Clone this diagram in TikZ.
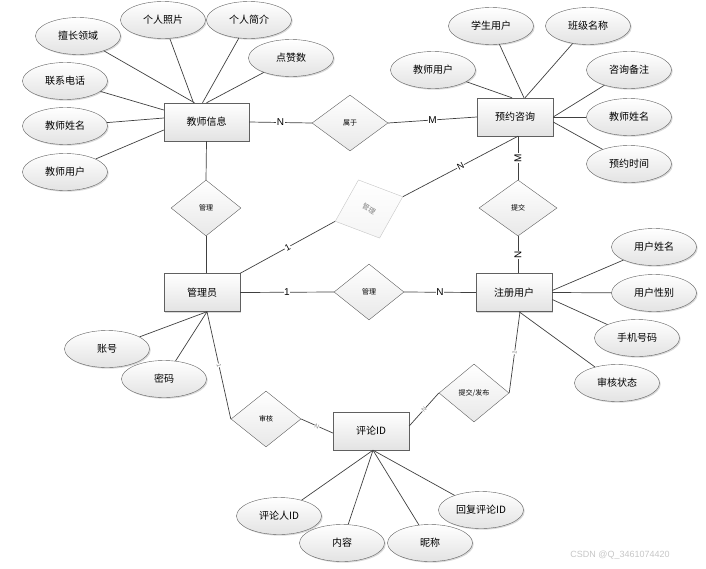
\documentclass[tikz,border=0pt]{standalone}
\usepackage{fontspec}
\setmainfont{Noto Sans CJK SC}
\newfontfamily\labfont{Liberation Sans}
\usetikzlibrary{shapes.geometric,shadows}
\tikzset{
	boxfill/.style={draw=gray!75!black, top color=white, bottom color=gray!22},
	shade/.style={drop shadow={opacity=0.3, shadow xshift=1.2pt, shadow yshift=-1.2pt}},
	ent/.style={boxfill, shade, minimum width=76pt, minimum height=38pt, inner sep=0pt, font=\fontsize{10}{12}\selectfont},
	attr/.style={ellipse, boxfill, shade, minimum width=85pt, minimum height=37pt, inner sep=0pt, font=\fontsize{10}{12}\selectfont},
	rel/.style={diamond, draw=gray!75!black, top color=white, bottom color=gray!18, minimum width=70pt, minimum height=56pt, inner sep=0pt, font=\fontsize{7}{8}\selectfont},
	con/.style={draw=black!75, line width=0.7pt},
	card/.style={fill=white, inner sep=0.6pt, font=\labfont\fontsize{10}{12}\selectfont},
	tick/.style={fill=white, inner sep=0.3pt, sloped, text=gray, font=\labfont\fontsize{6}{6}\selectfont},
}
\begin{document}
\begin{tikzpicture}[x=1pt, y=-1pt]
	\useasboundingbox (0,0) rectangle (706,568);
	\node[ent, minimum width=85pt] (ts) at (206.5,122) {教师信息};
	\node[ent] (yy) at (515,117) {预约咨询};
	\node[ent] (gly) at (202,292.5) {管理员};
	\node[ent] (zc) at (514,292.5) {注册用户};
	\node[ent] (pl) at (371,431) {评论ID};
	\node[rel, minimum width=76pt] (sy) at (350,123) {属于};
	\node[rel] (gl1) at (206,208) {管理};
	\node[rel, minimum width=78pt] (tj) at (518,208) {提交};
	\node[rel] (gl2) at (369,292) {管理};
	\node[rel] (sh) at (266,419) {审核};
	\node[rel, minimum height=58pt] (fb) at (474,393) {提交/发布};
	\node[rel, draw=gray!45, bottom color=gray!8, text=gray, rotate=20, minimum width=72pt, minimum height=62pt] (gl3) at (369,209) {\rotatebox{-50}{管理}};
	\foreach \nm/\x/\y/\txt/\e/\an/\dx/\dy in {
			a1/78/36/擅长领域/ts/north/-12/0, a2/163/20/个人照片/ts/north/-13/0,
			a3/249/20/个人简介/ts/north/-4/0, a4/291/58/点赞数/ts/north/0/0,
			a5/65/81/联系电话/ts/west/0/12, a6/65/126/教师姓名/ts/west/0/4,
			a7/65/172/教师用户/ts/west/0/-8,
			b1/433/70/教师用户/yy/north/-3/0, b2/491/26/学生用户/yy/north/9/0,
			b3/588/26/班级名称/yy/north/10/0, b4/629/70/咨询备注/yy/east/0/0,
			b5/629/117/教师姓名/yy/east/0/0, b6/629/164/预约时间/yy/east/0/-5,
			c1/107/349/账号/gly/south/5/0, c2/164/379/密码/gly/south/5/0,
			d1/654/247/用户姓名/zc/east/0/2, d2/654/293/用户性别/zc/east/0/0,
			d3/637/338/手机号码/zc/east/0/-7, d4/617/383/审核状态/zc/south/5/0,
			e1/279/516/评论人ID/pl/south/2/0, e2/342/543/内容/pl/south/2/0,
			e3/430/543/昵称/pl/south/2/0, e4/481/510/回复评论ID/pl/south/2/0}
	{
		\node[attr] (\nm) at (\x,\y) {\txt};
		\draw[con] (\nm) -- ([xshift=\dx pt, yshift=\dy pt]\e.\an);
	}
	\draw[con] (ts.east) -- node[card] {N} (sy.west);
	\draw[con] (sy.east) -- node[card] {M} (yy.west);
	\draw[con] (ts.south) -- (gl1.north);
	\draw[con] (gl1.south) -- ([xshift=4pt]gly.north);
	\draw[con] (gly.north east) -- node[card, sloped, font=\labfont\fontsize{9}{10}\selectfont] {1} (gl3.west);
	\draw[con] (gl3.east) -- node[card, sloped, font=\labfont\fontsize{9}{10}\selectfont] {N} ([xshift=3pt]yy.south);
	\draw[con] ([xshift=3pt]yy.south) -- node[card, rotate=90] {M} (tj.north);
	\draw[con] (tj.south) -- node[card, rotate=90] {N} ([xshift=4pt]zc.north);
	\draw[con] (gly.east) -- node[card] {1} (gl2.west);
	\draw[con] (gl2.east) -- node[card] {N} (zc.west);
	\draw[con] ([xshift=5pt]gly.south) -- node[tick] {1} (sh.west);
	\draw[con] (sh.east) -- node[tick] {N} ([yshift=-2pt]pl.west);
	\draw[con] ([xshift=6pt]zc.south) -- node[tick] {1} (fb.east);
	\draw[con] (fb.west) -- node[tick] {N} ([yshift=5pt]pl.east);
	\node[text=gray!45, font=\labfont\fontsize{9}{10}\selectfont] (wm) at (620,555) {CSDN @Q\_3461074420};
\end{tikzpicture}
\end{document}
